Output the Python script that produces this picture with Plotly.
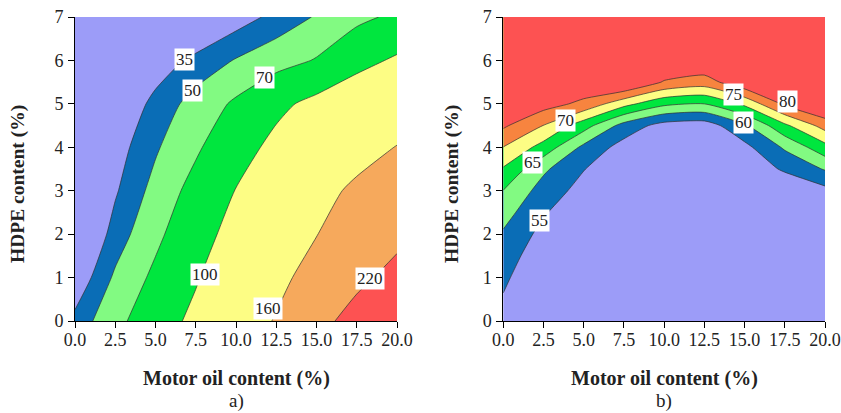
import plotly.graph_objects as go

# ---------------- data ----------------
oil = [0, 2.5, 5, 7.5, 10, 12.5, 15, 17.5, 20]           # Motor oil content (%)
hdpe_a = [0, 1, 2, 3, 4, 5, 6, 7]                         # HDPE content (%) for panel a
hdpe_b = [0, 0.5, 1, 1.5, 2, 2.5, 3, 3.5, 4, 4.5, 5, 5.5, 6, 6.5, 7]

# panel a) response values, rows = HDPE, columns = motor oil
z_a = [
    [39.3, 63.5, 85.3, 107.3, 134.8, 163.1, 202.1, 241.0, 280.0],
    [22.9, 52.9, 74.9, 97.3, 122.8, 148.6, 176.9, 207.2, 237.4],
    [12.7, 41.0, 64.8, 87.5, 111.0, 135.0, 159.0, 182.5, 206.0],
    [10.4, 33.2, 55.8, 78.2, 100.9, 123.3, 145.7, 168.1, 190.4],
    [7.8, 27.8, 47.8, 66.5, 87.8, 107.9, 125.7, 143.6, 161.4],
    [6.0, 20.7, 39.4, 56.9, 73.5, 93.0, 108.0, 120.5, 133.0],
    [5.0, 13.6, 26.3, 38.9, 51.2, 61.0, 71.5, 91.0, 104.0],
    [4.0, 7.0, 10.0, 15.2, 27.3, 39.4, 51.5, 64.0, 75.0],
]

# panel b) response values, rows = HDPE, columns = motor oil
z_b = [
    [52.9, 45.4, 41.1, 37.0, 34.5, 34.3, 37.6, 38.9, 41.5],
    [54.5, 47.4, 43.1, 39.0, 36.5, 36.3, 39.6, 40.9, 43.5],
    [56.2, 49.4, 45.1, 41.0, 38.5, 38.3, 41.6, 42.9, 45.5],
    [57.8, 51.4, 47.1, 43.0, 40.5, 40.3, 43.6, 44.9, 47.5],
    [59.4, 53.4, 49.1, 45.0, 42.5, 42.3, 45.6, 46.9, 49.5],
    [62.0, 55.5, 51.1, 47.0, 44.5, 44.3, 47.6, 48.9, 51.5],
    [64.9, 57.9, 53.1, 49.0, 46.5, 46.3, 49.6, 50.9, 53.5],
    [69.5, 60.9, 55.2, 51.0, 48.5, 48.3, 51.6, 55.7, 60.4],
    [74.9, 68.1, 58.8, 53.0, 50.5, 50.3, 53.6, 60.7, 68.3],
    [80.8, 74.9, 67.2, 58.1, 53.0, 52.3, 59.1, 69.0, 77.0],
    [86.8, 82.2, 78.7, 71.7, 66.1, 65.0, 71.1, 81.0, 86.0],
    [92.0, 88.0, 84.2, 86.0, 79.5, 77.6, 84.0, 86.0, 91.0],
    [97.0, 93.0, 89.0, 90.0, 86.0, 85.0, 89.0, 91.0, 95.0],
    [101.0, 98.0, 94.0, 94.0, 91.0, 90.0, 93.0, 95.0, 98.0],
    [105.0, 102.0, 98.0, 97.0, 95.0, 94.0, 97.0, 99.0, 101.0],
]

levels_a = [35, 50, 70, 100, 160, 220]
levels_b = [55, 60, 65, 70, 75, 80]

# label positions (motor oil, HDPE) for each contour level
label_x_a = [6.83, 7.31, 11.8, 8.07, 12.0, 18.3]
label_y_a = [6.01, 5.30, 5.61, 1.06, 0.29, 0.98]
label_x_b = [2.28, 14.96, 1.82, 3.88, 14.34, 17.68]
label_y_b = [2.32, 4.57, 3.65, 4.61, 5.21, 5.06]

x_ticks = [0, 2.5, 5, 7.5, 10, 12.5, 15, 17.5, 20]
y_ticks = [0, 1, 2, 3, 4, 5, 6, 7]

# ---------------- styles ----------------
LAVENDER = "#9c9cf8"
colors_a = ["#0a6db6", "#82fa82", "#00e63e", "#fdfd84", "#f6a95c", "#fd5252"]
colors_b = ["#0a6db6", "#82fa82", "#00e63e", "#fdfd84", "#f7843f", "#fd5252"]
FONT = "Liberation Serif, Times New Roman, serif"

fig = go.Figure()


def add_bands(z, y, levels, colors, xa, ya):
    # a constraint contour shades the region that fails the constraint,
    # so "< level" shades the part of the plane above that level
    for lev, col in zip(levels, colors):
        fig.add_trace(go.Contour(
            x=oil, y=y, z=z,
            contours=dict(type="constraint", operation="<", value=lev),
            fillcolor=col,
            line=dict(color="#303030", width=0.7, smoothing=0.6),
            showscale=False, hoverinfo="skip", showlegend=False,
            xaxis=xa, yaxis=ya,
        ))


add_bands(z_a, hdpe_a, levels_a, colors_a, "x", "y")
add_bands(z_b, hdpe_b, levels_b, colors_b, "x2", "y2")

W, H = 841, 413


def px(xp):
    return xp / W


def py(yp):
    return (H - yp) / H


xa_dom = [px(75), px(397)]
xb_dom = [px(503.3), px(825)]
y_dom = [py(321), py(17)]

axis_common = dict(
    showgrid=False, zeroline=False, showline=True, linecolor="black", linewidth=1,
    ticks="outside", ticklen=6, tickcolor="black", tickwidth=1, automargin=False,
    tickfont=dict(family=FONT, size=18, color="#222"),
)
xaxis_common = dict(axis_common, range=[0, 20], tickvals=x_ticks,
                    ticktext=[f"{v:.1f}" for v in x_ticks], ticklabelstandoff=-4)
yaxis_common = dict(axis_common, range=[0, 7], tickvals=y_ticks,
                    ticktext=[str(v) for v in y_ticks], ticklabelstandoff=1)

fig.update_layout(
    width=W, height=H,
    margin=dict(l=0, r=0, t=0, b=0),
    paper_bgcolor="white", plot_bgcolor=LAVENDER,
    xaxis=dict(xaxis_common, domain=xa_dom, anchor="y"),
    yaxis=dict(yaxis_common, domain=y_dom, anchor="x"),
    xaxis2=dict(xaxis_common, domain=xb_dom, anchor="y2"),
    yaxis2=dict(yaxis_common, domain=y_dom, anchor="x2"),
)

annotations = []
for lx, ly, lev in zip(label_x_a, label_y_a, levels_a):
    annotations.append(dict(x=lx, y=ly, xref="x", yref="y", text=str(lev), showarrow=False,
                            bgcolor="white", borderpad=1,
                            font=dict(family=FONT, size=17, color="#222")))
for lx, ly, lev in zip(label_x_b, label_y_b, levels_b):
    annotations.append(dict(x=lx, y=ly, xref="x2", yref="y2", text=str(lev), showarrow=False,
                            bgcolor="white", borderpad=1,
                            font=dict(family=FONT, size=17, color="#222")))

for cx, tag in [((75 + 397) / 2, "a)"), ((503.3 + 825) / 2, "b)")]:
    annotations.append(dict(x=px(cx), y=py(378), xref="paper", yref="paper",
                            text="<b>Motor oil content (%)</b>", showarrow=False,
                            font=dict(family=FONT, size=20, color="#222"),
                            xanchor="center", yanchor="middle"))
    annotations.append(dict(x=px(cx), y=py(401), xref="paper", yref="paper",
                            text=tag, showarrow=False,
                            font=dict(family=FONT, size=19, color="#222"),
                            xanchor="center", yanchor="middle"))
for cx in [18, 452]:
    annotations.append(dict(x=px(cx), y=py(184), xref="paper", yref="paper",
                            text="<b>HDPE content (%)</b>", showarrow=False, textangle=-90,
                            font=dict(family=FONT, size=19.5, color="#222"),
                            xanchor="center", yanchor="middle"))

fig.update_layout(annotations=annotations)
# drop the browser's default 8px page margin so the figure fills the window exactly
fig.write_html("out.html",
               config={"displayModeBar": False},
               post_script="document.body.style.margin='0px';document.body.style.overflow='hidden';")
